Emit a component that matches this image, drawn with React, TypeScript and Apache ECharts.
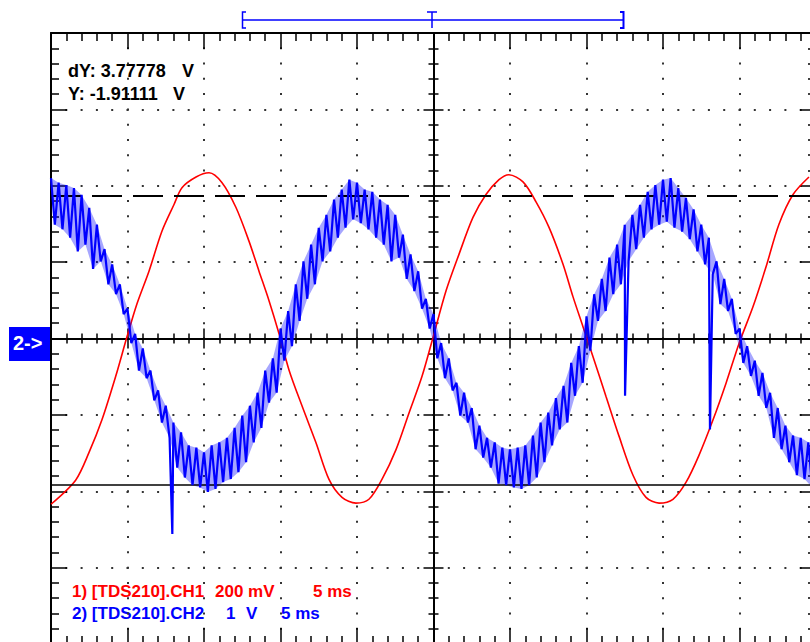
import React, { useEffect, useRef } from "react";
import * as echarts from "echarts";

// Time base: 5 ms/div, 10 divisions
const timeMin = 0;
const timeMax = 50;
const timeDiv = 5;
// CH2: 1 V/div, 8 divisions
const ch2Min = -4;
const ch2Max = 4;
// CH1: 200 mV/div
const ch1Min = -800;
const ch1Max = 800;

// CH1 (red) readings: time in ms, value in mV
const ch1Time = [
  0, 1.61, 2.48, 3.33, 4.23, 4.97, 5.62, 6.41, 7.25, 8.04,
  8.56, 9.48, 10.33, 11.18, 12.09, 12.94, 13.59, 14.25, 14.9, 15.56,
  16.41, 17.32, 18.17, 19.02, 19.93, 20.78, 21.63, 22.55, 23.4, 24.25,
  24.95, 25.82, 26.67, 27.58, 28.43, 29.28, 29.93, 30.85, 31.7, 32.55,
  33.46, 34.12, 34.77, 35.42, 36.27, 37.12, 38.04, 38.89, 39.74, 40.65,
  41.5, 42.35, 43.27, 44.12, 44.97, 45.88, 46.73, 47.58, 48.5, 49.54,
];
const ch1mV = [
  -434, -371, -299, -213, -99, 5, 91, 177, 281, 351,
  395, 423, 434, 408, 343, 255, 177, 99, 13, -83,
  -177, -273, -369, -416, -431, -421, -369, -291, -195, -99,
  0, 125, 221, 317, 377, 416, 429, 410, 358, 291,
  195, 109, 31, -47, -151, -255, -358, -416, -431, -421,
  -377, -306, -213, -117, -13, 83, 187, 299, 377, 423,
];

// CH2 (blue) readings every 0.5 ms: upper edge of the ripple, then lower edge 0.25 ms later (V)
const ch2Step = 0.5;
const ch2Upper = [
  2.1, 2.04, 2.01, 1.97, 1.88, 1.71, 1.49, 1.17, 0.97, 0.71,
  0.39, 0.06, -0.13, -0.42, -0.68, -0.88, -1.1, -1.23, -1.4, -1.43,
  -1.49, -1.4, -1.36, -1.3, -1.17, -1.01, -0.88, -0.71, -0.42, -0.26,
  0.13, 0.36, 0.71, 1.01, 1.23, 1.45, 1.62, 1.82, 1.95, 2.08,
  2.04, 1.95, 1.92, 1.82, 1.75, 1.62, 1.36, 1.1, 0.88, 0.52,
  0.32, -0.06, -0.26, -0.58, -0.71, -0.91, -1.14, -1.3, -1.36, -1.43,
  -1.45, -1.43, -1.4, -1.27, -1.1, -0.97, -0.78, -0.62, -0.32, -0.1,
  0.29, 0.58, 0.78, 1.06, 1.23, 1.49, 1.62, 1.75, 1.92, 2.01,
  2.08, 2.1, 1.97, 1.84, 1.69, 1.49, 1.32, 1.01, 0.78, 0.52,
  0.13, -0.1, -0.29, -0.45, -0.71, -0.91, -1.14, -1.27, -1.3, -1.36,
];
const ch2Lower = [
  1.49, 1.43, 1.32, 1.14, 1.23, 0.91, 1.01, 0.71, 0.58, 0.32,
  -0.06, -0.42, -0.52, -0.81, -1.1, -1.3, -1.69, -1.82, -1.92, -1.95,
  -2.01, -1.97, -1.88, -1.84, -1.75, -1.62, -1.36, -1.17, -0.84, -0.71,
  -0.29, -0.1, 0.23, 0.52, 0.71, 1.01, 1.14, 1.32, 1.45, 1.56,
  1.51, 1.43, 1.32, 1.23, 1.01, 1.06, 0.78, 0.62, 0.39, 0.13,
  -0.26, -0.52, -0.68, -1.01, -1.1, -1.45, -1.56, -1.69, -1.9, -1.92,
  -1.95, -1.97, -1.92, -1.82, -1.62, -1.4, -1.19, -1.1, -0.75, -0.58,
  -0.16, 0.23, 0.36, 0.58, 0.71, 1.01, 1.17, 1.32, 1.43, 1.49,
  1.53, 1.45, 1.4, 1.3, 1.14, 0.97, 0.84, 0.45, 0.36, 0.06,
  -0.32, -0.49, -0.75, -0.91, -1.3, -1.45, -1.62, -1.79, -1.84, -1.95,
];
// isolated glitches on CH2: [ms, V]
const ch2Glitches: [number, number][] = [
  [7.93, -2.56],
  [37.52, -0.75],
  [43.07, -1.19],
];

// cursors (CH2)
const cursorY = -1.91111;
const cursorDY = 3.77778;

const FONT = '"Liberation Sans", Arial, sans-serif';

function buildCh2(): [number, number][] {
  const pts: [number, number][] = [];
  ch2Upper.forEach((v, i) => {
    const t = i * ch2Step;
    pts.push([t, v]);
    pts.push([t + ch2Step / 2, ch2Lower[i]]);
  });
  ch2Glitches.forEach((g) => pts.push(g));
  pts.sort((a, b) => a[0] - b[0]);
  return pts;
}

const black = "#000";
const dotStyle = (len: number) => ({
  show: true,
  lineStyle: { color: "#333", width: 2, type: [2, len - 2] as any, dashOffset: 1 },
});

function borderAxis(extra: any) {
  return {
    type: "value",
    axisLabel: { show: false },
    splitLine: { show: false },
    axisLine: { show: true, onZero: false, lineStyle: { color: black, width: 2 } },
    axisTick: { show: true, inside: true, length: 16, lineStyle: { color: black, width: 1.5 } },
    minorTick: { show: true, splitNumber: 5, length: 8, lineStyle: { color: black, width: 1.5 } },
    ...extra,
  };
}

function centerAxis(extra: any, inside: boolean, zeroIdx: number) {
  return {
    type: "value",
    axisLabel: { show: false },
    splitLine: { show: false },
    axisLine: { show: true, onZero: true, onZeroAxisIndex: zeroIdx, lineStyle: { color: black, width: 2 } },
    axisTick: { show: true, inside, length: 10, lineStyle: { color: black, width: 1.5 } },
    minorTick: { show: true, splitNumber: 5, length: 5, lineStyle: { color: black, width: 1.5 } },
    ...extra,
  };
}

function txt(text: string, left: number, top: number, fill: string, size = 17) {
  return {
    type: "text",
    left,
    top,
    silent: true,
    style: { text, fill, font: `bold ${size}px ${FONT}` },
  };
}

export default function App() {
  const ref = useRef<HTMLDivElement>(null);
  useEffect(() => {
    const chart = echarts.init(ref.current!, null, { renderer: "svg" });
    const gridLeft = 51;
    const gridTop = 33;
    const gridW = 765;
    const gridH = 611;
    const option: any = {
      animation: false,
      backgroundColor: "#fff",
      grid: { left: gridLeft, top: gridTop, width: gridW, height: gridH, containLabel: false },
      xAxis: [
        borderAxis({ min: timeMin, max: timeMax, interval: timeDiv, position: "bottom", splitLine: dotStyle(gridH / 40) }),
        borderAxis({ min: timeMin, max: timeMax, interval: timeDiv, position: "top" }),
        { type: "value", min: -(timeMax - timeMin) / 2, max: (timeMax - timeMin) / 2, show: false },
        centerAxis({ min: timeMin, max: timeMax, interval: timeDiv, position: "bottom" }, true, 0),
        centerAxis({ min: timeMin, max: timeMax, interval: timeDiv, position: "bottom" }, false, 0),
      ],
      yAxis: [
        borderAxis({ min: ch2Min, max: ch2Max, interval: 1, position: "left", splitLine: dotStyle(gridW / 50) }),
        borderAxis({ min: ch2Min, max: ch2Max, interval: 1, position: "right" }),
        { type: "value", min: ch1Min, max: ch1Max, show: false },
        centerAxis({ min: ch2Min, max: ch2Max, interval: 1, position: "left" }, true, 2),
        centerAxis({ min: ch2Min, max: ch2Max, interval: 1, position: "left" }, false, 2),
      ],
      series: [
        {
          name: "CH1",
          type: "line",
          xAxisIndex: 0,
          yAxisIndex: 2,
          data: ch1Time.map((t, i) => [t, ch1mV[i]]),
          showSymbol: false,
          smooth: 0.3,
          lineStyle: { color: "#ff0000", width: 1.6 },
          silent: true,
          z: 3,
        },
        {
          name: "CH2 ripple band",
          type: "custom",
          xAxisIndex: 0,
          yAxisIndex: 0,
          silent: true,
          clip: true,
          z: 4,
          data: [[0, 0]],
          renderItem: (_params: any, api: any) => {
            const pts: number[][] = [];
            ch2Upper.forEach((v, i) => pts.push(api.coord([i * ch2Step, v])));
            for (let i = ch2Lower.length - 1; i >= 0; i--) {
              pts.push(api.coord([i * ch2Step + ch2Step / 2, ch2Lower[i]]));
            }
            return {
              type: "polygon",
              shape: { points: pts },
              style: { fill: "rgba(0,0,255,0.35)", stroke: "none" },
            };
          },
        },
        {
          name: "CH2",
          type: "line",
          xAxisIndex: 0,
          yAxisIndex: 0,
          data: buildCh2(),
          showSymbol: false,
          lineStyle: { color: "#0000ff", width: 2.2 },
          silent: true,
          z: 5,
          markLine: {
            silent: true,
            symbol: ["none", "none"],
            label: { show: false },
            data: [
              { yAxis: cursorY, lineStyle: { type: "solid", color: black, width: 1.5 } },
              { yAxis: cursorY + cursorDY, lineStyle: { type: [30, 11], color: black, width: 2 } },
            ],
          },
        },
      ],
      graphic: [
        { type: "rect", shape: { x: 9, y: 327, width: 41, height: 34 }, style: { fill: "#0000ff" }, silent: true },
        txt("2->", 13, 333, "#fff", 20),
        txt("dY: 3.77778", 68, 62, black, 18),
        txt("V", 182, 62, black, 18),
        txt("Y: -1.91111", 68, 85, black, 18),
        txt("V", 173, 85, black, 18),
        txt("1) [TDS210].CH1", 72, 583, "#ff0000"),
        txt("200 mV", 215, 583, "#ff0000"),
        txt("5 ms", 313, 583, "#ff0000"),
        txt("2) [TDS210].CH2", 72, 605, "#0000ff"),
        txt("1", 226, 605, "#0000ff"),
        txt("V", 246, 605, "#0000ff"),
        txt("5 ms", 281, 605, "#0000ff"),
        // trigger/time window bracket
        { type: "line", shape: { x1: 242, y1: 20, x2: 624, y2: 20 }, style: { stroke: "#0000ff", lineWidth: 1.5 }, silent: true },
        { type: "polyline", shape: { points: [[246, 12], [242.5, 12], [242.5, 28], [246, 28]] }, style: { stroke: "#0000ff", lineWidth: 1.5, fill: null }, silent: true },
        { type: "polyline", shape: { points: [[620, 12], [623.5, 12], [623.5, 28], [620, 28]] }, style: { stroke: "#0000ff", lineWidth: 2, fill: null }, silent: true },
        { type: "line", shape: { x1: 427, y1: 12, x2: 437, y2: 12 }, style: { stroke: "#0000ff", lineWidth: 1.5 }, silent: true },
        { type: "line", shape: { x1: 432, y1: 12, x2: 432, y2: 28 }, style: { stroke: "#0000ff", lineWidth: 1.5 }, silent: true },
      ],
    };
    chart.setOption(option);
    return () => chart.dispose();
  }, []);
  return (
    <div
      ref={ref}
      style={{ position: "fixed", left: 0, top: 0, width: 830, height: 660, background: "#fff" }}
    />
  );
}
